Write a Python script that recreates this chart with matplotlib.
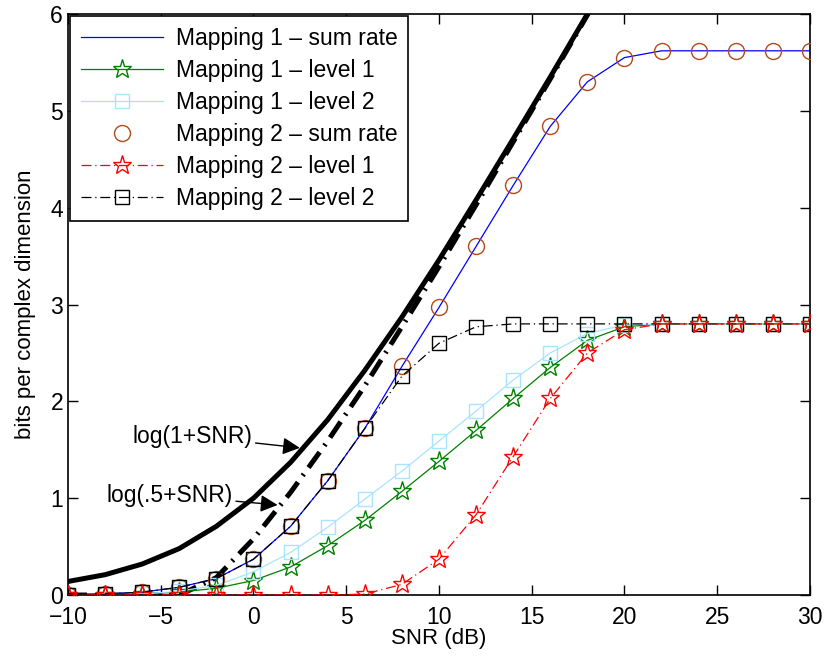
import matplotlib
matplotlib.use("Agg")
import matplotlib.pyplot as plt

plt.rcParams['font.family'] = ['Liberation Sans', 'DejaVu Sans']
plt.rcParams['font.size'] = 16.5

# SNR grid (dB)
snr = [-10, -8, -6, -4, -2, 0, 2, 4, 6, 8, 10, 12, 14, 16, 18, 20, 22, 24, 26, 28, 30]

# capacity curves, up to 20 dB
snr_cap = [-10, -8, -6, -4, -2, 0, 2, 4, 6, 8, 10, 12, 14, 16, 18, 20]
log_1_snr = [0.14, 0.21, 0.32, 0.48, 0.71, 1.00, 1.37, 1.81, 2.32, 2.87, 3.46, 4.08, 4.71, 5.35, 6.00, 6.66]
log_05_snr = [0.0, 0.0, 0.0, 0.0, 0.18, 0.58, 1.06, 1.59, 2.16, 2.77, 3.39, 4.03, 4.68, 5.33, 5.99, 6.65]

# mapping 1
m1_sum = [0.005, 0.01, 0.03, 0.08, 0.17, 0.37, 0.71, 1.18, 1.72, 2.36, 2.97, 3.60, 4.23, 4.84, 5.30, 5.55, 5.62, 5.62, 5.62, 5.62, 5.62]
m1_lev1 = [0.0, 0.0, 0.01, 0.03, 0.07, 0.15, 0.29, 0.51, 0.77, 1.07, 1.38, 1.70, 2.03, 2.35, 2.63, 2.77, 2.80, 2.80, 2.80, 2.80, 2.80]
m1_lev2 = [0.0, 0.0, 0.01, 0.04, 0.10, 0.24, 0.44, 0.70, 0.99, 1.28, 1.59, 1.90, 2.22, 2.50, 2.70, 2.79, 2.80, 2.80, 2.80, 2.80, 2.80]

# mapping 2
m2_sum = m1_sum
m2_lev1 = [0.0, 0.0, 0.0, 0.0, 0.0, 0.0, 0.0, 0.0, 0.01, 0.11, 0.37, 0.83, 1.43, 2.03, 2.50, 2.74, 2.80, 2.80, 2.80, 2.80, 2.80]
m2_lev2 = [0.005, 0.01, 0.03, 0.08, 0.17, 0.37, 0.71, 1.18, 1.72, 2.26, 2.60, 2.77, 2.80, 2.80, 2.80, 2.80, 2.80, 2.80, 2.80, 2.80, 2.80]

fig = plt.figure(figsize=(8.25, 6.61), dpi=100)
ax = fig.add_axes([0.0824, 0.0998, 0.8994, 0.879])

ax.plot(snr_cap, log_1_snr, color='k', lw=3.6, zorder=1)
ax.plot(snr_cap, log_05_snr, color='k', lw=3.6, dashes=(3.8, 1.6, 0.4, 1.6), zorder=1)

h1, = ax.plot(snr, m1_sum, color='b', lw=0.9, label='Mapping 1 \u2013 sum rate', zorder=2)
h2, = ax.plot(snr, m1_lev1, color='#008000', lw=0.9, marker='*', ms=14, mfc='none', mew=1.0,
              label='Mapping 1 \u2013 level 1', zorder=2)
h3, = ax.plot(snr, m1_lev2, color='#a8e4ff', lw=0.9, marker='s', ms=10, mfc='none', mew=1.0,
              label='Mapping 1 \u2013 level 2', zorder=2)
h4, = ax.plot(snr, m2_sum, ls='none', color='#b24a1a', marker='o', ms=11.5, mfc='none', mew=1.0,
              label='Mapping 2 \u2013 sum rate', zorder=3)
h6, = ax.plot(snr, m2_lev2, color='k', lw=0.9, dashes=(8, 3, 1, 3), marker='s', ms=10, mfc='none',
              mew=1.0, label='Mapping 2 \u2013 level 2', zorder=4)
h5, = ax.plot(snr, m2_lev1, color='r', lw=0.9, dashes=(8, 3, 1, 3), marker='*', ms=14, mfc='none',
              mew=1.0, label='Mapping 2 \u2013 level 1', zorder=5)

ax.annotate('log(1+SNR)', xy=(2.5, 1.52), xytext=(-6.5, 1.64), fontsize=16.5,
            va='center', ha='left',
            arrowprops=dict(arrowstyle='-|>', color='k', lw=1, mutation_scale=26, shrinkA=0, shrinkB=0))
ax.annotate('log(.5+SNR)', xy=(1.3, 0.93), xytext=(-7.9, 1.03), fontsize=16.5,
            va='center', ha='left',
            arrowprops=dict(arrowstyle='-|>', color='k', lw=1, mutation_scale=26, shrinkA=0, shrinkB=0))

ax.set_xlim(-10, 30)
ax.set_ylim(0, 6)
ax.set_xticks([-10, -5, 0, 5, 10, 15, 20, 25, 30])
ax.set_xticklabels(['\u221210', '\u22125', '0', '5', '10', '15', '20', '25', '30'])
ax.set_yticks([0, 1, 2, 3, 4, 5, 6])
ax.tick_params(direction='in', top=True, right=True, length=7, width=1, labelsize=16.5)
ax.tick_params(axis='x', pad=8)
for s in ax.spines.values():
    s.set_linewidth(1.2)
ax.set_xlabel('SNR (dB)', fontsize=16, labelpad=-1)
ax.set_ylabel('bits per complex dimension', fontsize=16, labelpad=10)

leg = ax.legend(handles=[h1, h2, h3, h4, h5, h6], loc='upper left', fontsize=16.5,
                handlelength=3.6, borderaxespad=0.1, fancybox=False, framealpha=1,
                edgecolor='k', labelspacing=0.4, borderpad=0.45, handletextpad=0.55)
leg.get_frame().set_linewidth(1.2)

fig.savefig('out.png', dpi=100)
